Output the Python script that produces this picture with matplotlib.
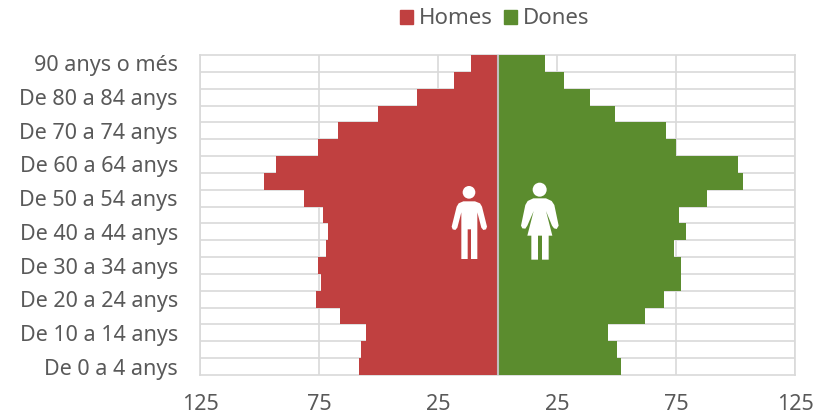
import matplotlib
matplotlib.use('Agg')
import matplotlib.pyplot as plt
from matplotlib.patches import Polygon, Circle, Patch
from matplotlib.transforms import Affine2D

plt.rcParams['font.family'] = ['Noto Sans', 'DejaVu Sans']

# piramide, de baix a dalt
edats = ['De 0 a 4 anys', 'De 5 a 9 anys', 'De 10 a 14 anys', 'De 15 a 19 anys',
         'De 20 a 24 anys', 'De 25 a 29 anys', 'De 30 a 34 anys', 'De 35 a 39 anys',
         'De 40 a 44 anys', 'De 45 a 49 anys', 'De 50 a 54 anys', 'De 55 a 59 anys',
         'De 60 a 64 anys', 'De 65 a 69 anys', 'De 70 a 74 anys', 'De 75 a 79 anys',
         'De 80 a 84 anys', 'De 85 a 89 anys', '90 anys o més']
homes = [58.2, 57.2, 55.2, 66.3, 76.1, 74.3, 75.3, 72.2, 71.2, 73.3,
         81.2, 98.3, 93.1, 75.3, 67.1, 50.2, 34.0, 18.2, 11.2]
dones = [52.1, 50.2, 46.3, 62.1, 70.1, 77.1, 77.1, 74.2, 79.0, 76.1,
         88.2, 103.0, 101.1, 75.1, 71.0, 49.2, 38.9, 28.0, 20.0]
ticks_x = [-125, -75, -25, 25, 75, 125]

VERMELL = '#C04040'
VERD = '#5B8C2E'
GRIS = '#D9D9D9'
TEXT = '#595959'

fig = plt.figure(figsize=(8.25, 4.15), dpi=100)
ax = fig.add_axes([200 / 825, 1 - 375 / 415, 595 / 825, 320 / 415])

y = list(range(len(edats)))
ax.barh(y, [-h for h in homes], height=1, color=VERMELL, zorder=2, label='Homes')
ax.barh(y, dones, height=1, color=VERD, zorder=2, label='Dones')

ax.set_xlim(-125, 125)
ax.set_ylim(-0.5, len(edats) - 0.5)
ax.set_xticks(ticks_x)
ax.set_xticklabels([str(abs(t)) for t in ticks_x])
ax.set_yticks(y[::2])
ax.set_yticklabels(edats[::2])
ax.set_yticks([i - 0.5 for i in y[1:]], minor=True)
ax.tick_params(axis='both', which='both', length=0)
ax.tick_params(axis='x', labelsize=15.5, labelcolor=TEXT, pad=14)
ax.tick_params(axis='y', labelsize=15.5, labelcolor=TEXT, pad=16)
ax.grid(True, axis='x', color=GRIS, lw=1.2, zorder=1)
ax.grid(True, axis='y', which='minor', color=GRIS, lw=1.2, zorder=1)
ax.set_axisbelow(True)
for s in ax.spines.values():
    s.set_color(GRIS)
    s.set_linewidth(1.2)
    s.set_zorder(1)
ax.axvline(0, color='#BFBFBF', lw=1.5, zorder=3)

# icones home / dona, en pixels de la imatge
def icona(x0, y0):
    return Affine2D().scale(1 / 3, -1 / 3).translate(x0, 415 - y0).scale(1 / 825, 1 / 415) + fig.transFigure

t = icona(440, 175)
home = [(70, 79), (105, 79), (120, 85), (126, 95), (141, 155), (138, 163), (130, 165), (124, 158),
        (112, 112), (112, 252), (93, 252), (93, 163), (83, 163), (83, 252), (64, 252), (64, 112),
        (52, 158), (46, 165), (38, 163), (35, 155), (50, 95), (56, 85)]
dona = [(280, 70), (318, 70), (335, 78), (343, 90), (356, 152), (350, 162), (342, 160), (336, 152),
        (318, 108), (337, 182), (326, 182), (326, 254), (306, 254), (306, 182), (294, 182), (294, 254),
        (274, 254), (274, 182), (262, 182), (281, 108), (262, 152), (256, 161), (247, 160), (243, 152),
        (256, 90), (263, 78)]
for p in [Polygon(home, transform=t), Circle((87, 52), 19, transform=t),
          Polygon(dona, transform=t), Circle((299, 44), 21, transform=t)]:
    p.set_facecolor('white')
    p.set_edgecolor('none')
    p.set_zorder(4)
    ax.add_patch(p)

fig.legend(handles=[Patch(color=VERMELL, label='Homes'), Patch(color=VERD, label='Dones')],
           loc='center', bbox_to_anchor=(495 / 825, 1 - 19 / 415), ncol=2, frameon=False,
           fontsize=16, labelcolor=TEXT, handlelength=0.56, handleheight=0.6,
           handletextpad=0.3, columnspacing=0.5)

fig.savefig('out.png', dpi=100)
